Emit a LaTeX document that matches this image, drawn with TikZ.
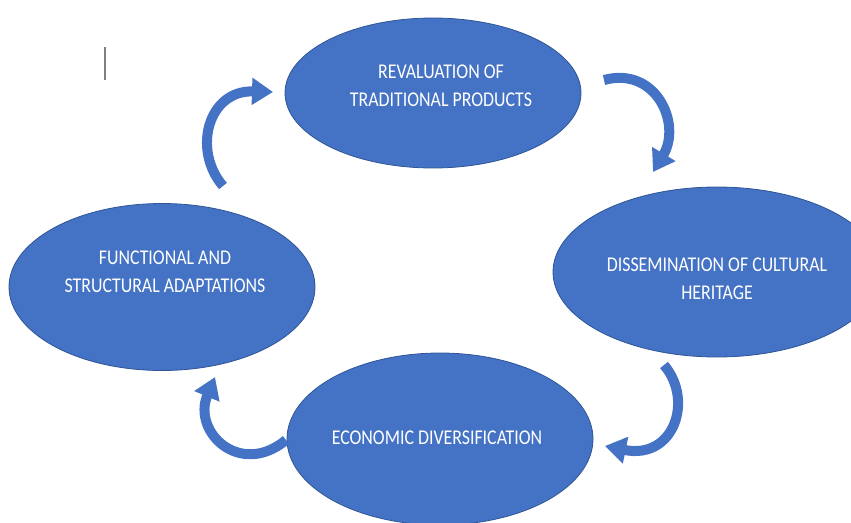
\documentclass[tikz,border=0pt]{standalone}
\usepackage{fontspec}
\setmainfont{Carlito}[FakeStretch=0.85]
\usetikzlibrary{shapes.geometric,arrows.meta}

\definecolor{cycleblue}{RGB}{68,114,196}
\definecolor{cycleedge}{RGB}{47,85,151}

\begin{document}
\begin{tikzpicture}[x=1pt, y=-1pt,
  blob/.style={ellipse, fill=cycleblue, draw=cycleedge, line width=0.8pt, inner sep=0pt},
  blobtext/.style={text=white, align=center, font=\fontsize{21}{28}\selectfont},
  turn/.style={cycleblue, line width=10pt, -{Triangle[width=26pt,length=21pt]}}]

  \useasboundingbox (0,0) rectangle (851,522);

  % ---------------- the four stages ----------------
  \node[blob, minimum width=296pt, minimum height=150pt] (reval) at (433,93) {};
  \node[blob, minimum width=328pt, minimum height=170pt] (dissem) at (717,272) {};
  \node[blob, minimum width=306pt, minimum height=172pt] (econ) at (440,439) {};
  \node[blob, minimum width=306pt, minimum height=167pt] (adapt) at (162,287) {};

  \node[blobtext] (revalT) at (441,86) {REVALUATION OF\\TRADITIONAL PRODUCTS};
  \node[blobtext] (dissemT) at (717,279) {DISSEMINATION OF CULTURAL\\HERITAGE};
  \node[blobtext] (econT) at (437,438) {ECONOMIC DIVERSIFICATION};
  \node[blobtext] (adaptT) at (165,272) {FUNCTIONAL AND\\STRUCTURAL ADAPTATIONS};

  % ---------------- curved arrows between them ----------------
  \coordinate (a1) at (604,80);  \coordinate (b1) at (653,172);
  \coordinate (a2) at (664,365); \coordinate (b2) at (605,446);
  \coordinate (a3) at (286,440); \coordinate (b3) at (215,377);
  \coordinate (a4) at (223,186); \coordinate (b4) at (273,92);

  \draw[turn] (a1) .. controls (656,66) and (682,124) .. (b1);
  \draw[turn] (a2) .. controls (694,400) and (674,460) .. (b2);
  \draw[turn] (a3) .. controls (240,478) and (192,432) .. (b3);
  \draw[turn] (a4) .. controls (192,150) and (208,90) .. (b4);

  % stray cursor mark
  \draw[gray, line width=1.5pt] (105,47) coordinate (c1) -- (105,80) coordinate (c2);

\end{tikzpicture}
\end{document}
